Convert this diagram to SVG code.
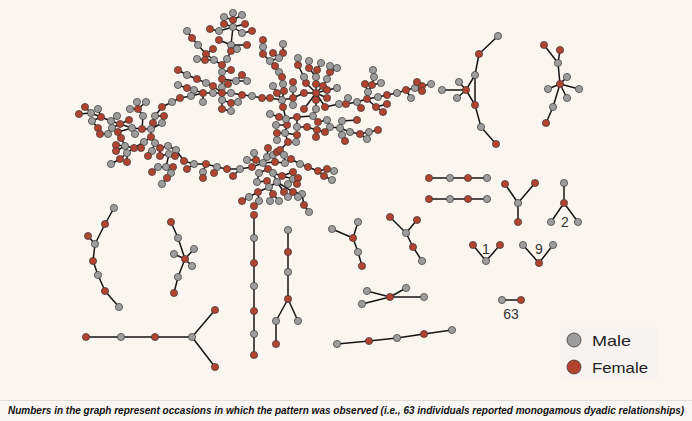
<svg xmlns="http://www.w3.org/2000/svg" xmlns:xlink="http://www.w3.org/1999/xlink" width="692" height="421" viewBox="0 0 692 421">
<style>
.e{fill:none;stroke:#151515;stroke-width:1.5;stroke-linecap:round;stroke-linejoin:round}
.lbl{font-family:"Liberation Sans",Arial,sans-serif;font-size:14px;fill:#333}
.leg{font-family:"Liberation Sans",Arial,sans-serif;font-size:15px;fill:#222}
.cap{font-family:"Liberation Sans",Arial,sans-serif;font-size:11px;font-weight:bold;font-style:italic;fill:#111}
</style>
<defs>
<circle id="M" r="3.6" fill="#9d9d9d" stroke="#3a3a3a" stroke-width="0.7"/>
<circle id="F" r="3.6" fill="#b1432f" stroke="#3a3a3a" stroke-width="0.7"/>
</defs>
<rect width="692" height="421" fill="#fbf5f0"/>
<rect x="0" y="400" width="692" height="21" fill="#faf6f3"/>
<line x1="0" y1="400.5" x2="692" y2="400.5" stroke="#e2dcd7" stroke-width="1"/>

<g id="connectors">
<path class="e" d="M233,13L233,20L233,27L231,45L231,51L227,59L222,65L222,72L222,79L222,87L222,93L222,100L222,109L231,111
M224,17L233,20L242,15 M224,24L233,27L245,24 M210,29L219,31L233,27L242,33L252,31 M219,40L231,45L247,45 M231,51L237,49
M187,31L192,38L198,45L206,54L214,60L222,65 M213,49L206,54 M197,59L205,60L214,60 M222,72L231,70 M222,79L236,81L242,75 M236,81L247,81 M222,87L228,84
M178,70L187,75L197,79L206,83L213,86L222,93 M178,85L187,88L194,90L203,93L213,93L222,93 M222,93L231,93L242,95L252,96 M203,93L203,102 M222,100L231,103L238,102 M203,93L191,96
M191,96L180,98L172,102L162,107L155,116L153,123L151,129
M151,129L142,129L132,128L120,124L111,121L101,117L91,113L79,114 M85,107L91,113 M98,109L101,117 M101,117L92,121L98,128 M111,121L117,116 M120,124L129,120 M120,124L112,128L108,134L100,134 M132,128L135,134 M132,128L118,132
M137,102L138,109L146,102 M130,109L138,109L143,116L142,129 M155,116L164,116 M151,129L162,123
M151,129L151,137L144,142L134,148L125,146L121,138 M125,146L116,145 M125,146L116,151 M134,148L127,153L120,159 M127,153L127,162 M120,159L111,164 M144,142L141,148
M151,137L155,143L160,148L168,146L176,150L184,161 M155,143L152,151L148,156 M160,148L160,156L169,154L175,156 M169,154L166,167L173,167 M166,167L158,167L152,172 M166,167L171,173L167,178L162,184
M184,161L194,164L206,164L217,167L227,169L240,169L252,167L263,163 M194,164L187,169 M206,164L203,172L203,178 M217,167L214,173 M240,169L233,176
M263,163L256,160L247,160 M256,160L254,153 M263,163L267,157L268,148 M263,163L275,162L285,163L291,159L300,164L308,167L318,171L327,169L334,171 M318,171L324,176L332,180
M275,162L273,155L277,152L280,150 M285,163L284,155 M263,163L268,169L273,173L282,176L293,179L298,178 M282,176L293,172 M293,179L288,184 M293,179L297,184
M268,169L259,173L257,182L267,181 M273,173L277,182L269,187L258,192L249,197L242,201 M258,192L259,201L254,206 M269,187L273,194L270,201 M273,194L279,201 M277,182L284,192L288,197 M277,182L293,192L302,194L304,205L309,212 M293,192L298,197
M280,150L288,142L285,133L287,125L286,119L283,107L282,100 M286,119L279,117L270,114 M286,119L297,117L313,116 M287,125L276,125 M285,133L277,133L277,140 M285,133L297,135L296,142
M297,117L297,127L307,127L317,130L325,132L330,127 M317,130L316,137 M340,128L330,127L327,120L318,122L313,116 M313,116L316,109
M340,128L342,121L357,120 M340,128L350,132L360,134L369,132L378,130 M360,134L367,139 M340,128L342,135L345,141
M252,96L262,98L270,98L282,100L293,98L304,93L316,93
M316,93L306,83L304,77L298,65L298,58 M316,93L316,84L316,77L317,70L321,63 M316,77L309,68L309,61 M316,93L323,86L327,79L330,72L330,66 M330,72L337,68 M316,93L327,90L337,88 M316,93L327,98 M316,93L316,100L316,109 M316,93L304,109
M316,93L325,107L339,104L346,104L357,102L367,99 M346,104L348,98 M357,102L361,108
M263,40L263,47L263,54L270,61L275,66L279,72L282,77L283,84L284,91L282,100 M283,44L283,53L279,58L270,61 M273,53L279,58 M273,86L277,93L282,100 M293,82L293,89L293,98 M293,98L293,105
M367,99L368,92L365,84 M368,92L372,85L374,77L373,70 M372,85L381,83 M367,99L378,97L387,95L397,93L406,90L415,88L422,86L431,84 M415,88L417,82 M415,88L422,91 M406,90L411,98 M367,99L376,107L383,112 M376,107L387,104"/>
<path class="e" d="M498,36L479,54L475,75L466,90L475,105L481,127L496,144 M475,75L475,105 M466,90L459,82 M466,90L442,90 M466,90L457,98"/>
<path class="e" d="M544,45L558,63L560,84L553,107L546,123 M560,50L558,63 M560,84L567,77 M560,84L579,89 M560,84L567,98 M560,84L548,89"/>
<path class="e" d="M429,178H487 M429,199H487"/>
<path class="e" d="M505,184L518,203L535,183 M518,203L518,222"/>
<path class="e" d="M564,183L564,203L551,222 M564,203L578,222"/>
<path class="e" d="M473,245L486,261L500,245"/>
<path class="e" d="M523,245L539,263L553,245"/>
<path class="e" d="M502,300H521"/>
<path class="e" d="M114,208L105,224L95,244L93,261L98,275L105,291L119,307 M88,236L95,244"/>
<path class="e" d="M171,222L178,238L185,259L178,277L174,293 M185,259L174,254 M185,259L194,249 M185,259L192,266"/>
<path class="e" d="M254,215V355"/>
<path class="e" d="M288,230L288,299L276,321L276,344 M288,299L298,321"/>
<path class="e" d="M332,229L353,238L358,222 M353,238L358,252L362,266"/>
<path class="e" d="M390,217L406,233L417,220 M406,233L413,247L422,261"/>
<path class="e" d="M390,297L367,291 M390,297L406,288 M390,297L424,297 M390,297L362,304"/>
<path class="e" d="M337,344L369,341L397,338L424,334L452,330"/>
<path class="e" d="M86,337H192L215,310 M192,337L215,367"/>
</g>

<g id="component-giant">
<use href="#M" x="233" y="13"/><use href="#F" x="233" y="20"/><use href="#M" x="233" y="27"/><use href="#M" x="231" y="45"/><use href="#F" x="231" y="51"/><use href="#M" x="227" y="59"/><use href="#F" x="222" y="65"/><use href="#M" x="222" y="72"/><use href="#F" x="222" y="79"/><use href="#M" x="222" y="87"/><use href="#F" x="222" y="93"/><use href="#M" x="222" y="100"/><use href="#F" x="222" y="109"/><use href="#M" x="231" y="111"/>
<use href="#M" x="224" y="17"/><use href="#M" x="242" y="15"/><use href="#F" x="224" y="24"/><use href="#F" x="245" y="24"/><use href="#F" x="210" y="29"/><use href="#M" x="219" y="31"/><use href="#M" x="242" y="33"/><use href="#F" x="252" y="31"/><use href="#F" x="219" y="40"/><use href="#F" x="247" y="45"/><use href="#M" x="237" y="49"/>
<use href="#M" x="187" y="31"/><use href="#F" x="192" y="38"/><use href="#M" x="198" y="45"/><use href="#F" x="206" y="54"/><use href="#M" x="214" y="60"/><use href="#F" x="213" y="49"/><use href="#M" x="197" y="59"/><use href="#F" x="205" y="60"/><use href="#F" x="231" y="70"/><use href="#M" x="236" y="81"/><use href="#F" x="242" y="75"/><use href="#M" x="247" y="81"/><use href="#F" x="228" y="84"/>
<use href="#F" x="178" y="70"/><use href="#M" x="187" y="75"/><use href="#F" x="197" y="79"/><use href="#M" x="206" y="83"/><use href="#F" x="213" y="86"/><use href="#M" x="178" y="85"/><use href="#F" x="187" y="88"/><use href="#M" x="194" y="90"/><use href="#F" x="203" y="93"/><use href="#M" x="213" y="93"/><use href="#M" x="231" y="93"/><use href="#F" x="242" y="95"/><use href="#M" x="252" y="96"/><use href="#M" x="203" y="102"/><use href="#F" x="231" y="103"/><use href="#M" x="238" y="102"/><use href="#M" x="191" y="96"/>
<use href="#F" x="180" y="98"/><use href="#M" x="172" y="102"/><use href="#F" x="162" y="107"/><use href="#M" x="155" y="116"/><use href="#F" x="153" y="123"/><use href="#M" x="151" y="129"/><use href="#F" x="142" y="129"/><use href="#M" x="132" y="128"/><use href="#F" x="120" y="124"/><use href="#M" x="111" y="121"/><use href="#F" x="101" y="117"/><use href="#M" x="91" y="113"/><use href="#F" x="79" y="114"/><use href="#M" x="98" y="109"/><use href="#F" x="85" y="107"/><use href="#M" x="92" y="121"/><use href="#F" x="98" y="128"/><use href="#M" x="117" y="116"/><use href="#F" x="129" y="120"/><use href="#M" x="112" y="128"/><use href="#M" x="108" y="134"/><use href="#F" x="100" y="134"/><use href="#M" x="135" y="134"/><use href="#F" x="118" y="132"/>
<use href="#M" x="137" y="102"/><use href="#F" x="138" y="109"/><use href="#M" x="146" y="102"/><use href="#M" x="130" y="109"/><use href="#M" x="143" y="116"/><use href="#F" x="164" y="116"/><use href="#M" x="162" y="123"/><use href="#F" x="151" y="137"/><use href="#M" x="144" y="142"/><use href="#F" x="134" y="148"/><use href="#M" x="125" y="146"/><use href="#F" x="121" y="138"/><use href="#F" x="116" y="145"/><use href="#F" x="116" y="151"/><use href="#M" x="127" y="153"/><use href="#F" x="120" y="159"/><use href="#F" x="127" y="162"/><use href="#M" x="111" y="164"/><use href="#F" x="141" y="148"/>
<use href="#M" x="155" y="143"/><use href="#F" x="160" y="148"/><use href="#M" x="168" y="146"/><use href="#M" x="176" y="150"/><use href="#F" x="184" y="161"/><use href="#M" x="152" y="151"/><use href="#F" x="148" y="156"/><use href="#F" x="160" y="156"/><use href="#M" x="169" y="154"/><use href="#F" x="175" y="156"/><use href="#M" x="166" y="167"/><use href="#F" x="173" y="167"/><use href="#M" x="158" y="167"/><use href="#F" x="152" y="172"/><use href="#M" x="171" y="173"/><use href="#F" x="167" y="178"/><use href="#M" x="162" y="184"/>
<use href="#M" x="194" y="164"/><use href="#F" x="206" y="164"/><use href="#M" x="217" y="167"/><use href="#F" x="227" y="169"/><use href="#M" x="240" y="169"/><use href="#F" x="252" y="167"/><use href="#M" x="263" y="163"/><use href="#F" x="187" y="169"/><use href="#M" x="203" y="172"/><use href="#F" x="203" y="178"/><use href="#F" x="214" y="173"/><use href="#F" x="233" y="176"/>
<use href="#F" x="256" y="160"/><use href="#M" x="247" y="160"/><use href="#M" x="254" y="153"/><use href="#M" x="267" y="157"/><use href="#F" x="268" y="148"/><use href="#F" x="275" y="162"/><use href="#M" x="285" y="163"/><use href="#F" x="291" y="159"/><use href="#M" x="300" y="164"/><use href="#F" x="308" y="167"/><use href="#F" x="318" y="171"/><use href="#F" x="327" y="169"/><use href="#M" x="334" y="171"/><use href="#F" x="324" y="176"/><use href="#M" x="332" y="180"/>
<use href="#M" x="273" y="155"/><use href="#F" x="277" y="152"/><use href="#F" x="280" y="150"/><use href="#M" x="284" y="155"/><use href="#F" x="268" y="169"/><use href="#M" x="273" y="173"/><use href="#F" x="282" y="176"/><use href="#M" x="293" y="179"/><use href="#F" x="298" y="178"/><use href="#F" x="293" y="172"/><use href="#M" x="288" y="184"/><use href="#F" x="297" y="184"/>
<use href="#M" x="259" y="173"/><use href="#M" x="257" y="182"/><use href="#F" x="267" y="181"/><use href="#M" x="277" y="182"/><use href="#M" x="269" y="187"/><use href="#F" x="258" y="192"/><use href="#M" x="249" y="197"/><use href="#F" x="242" y="201"/><use href="#M" x="259" y="201"/><use href="#F" x="254" y="206"/><use href="#F" x="273" y="194"/><use href="#M" x="270" y="201"/><use href="#M" x="279" y="201"/><use href="#F" x="284" y="192"/><use href="#M" x="288" y="197"/><use href="#F" x="293" y="192"/><use href="#M" x="302" y="194"/><use href="#F" x="304" y="205"/><use href="#M" x="309" y="212"/><use href="#M" x="298" y="197"/>
<use href="#F" x="288" y="142"/><use href="#M" x="285" y="133"/><use href="#F" x="287" y="125"/><use href="#M" x="286" y="119"/><use href="#F" x="283" y="107"/><use href="#F" x="279" y="117"/><use href="#M" x="270" y="114"/><use href="#F" x="297" y="117"/><use href="#M" x="313" y="116"/><use href="#M" x="276" y="125"/><use href="#F" x="277" y="133"/><use href="#M" x="277" y="140"/><use href="#F" x="297" y="135"/><use href="#M" x="296" y="142"/>
<use href="#M" x="297" y="127"/><use href="#F" x="307" y="127"/><use href="#F" x="317" y="130"/><use href="#M" x="340" y="128"/><use href="#M" x="330" y="127"/><use href="#M" x="327" y="120"/><use href="#F" x="318" y="122"/><use href="#F" x="325" y="132"/><use href="#F" x="316" y="137"/><use href="#M" x="342" y="121"/><use href="#F" x="357" y="120"/><use href="#M" x="350" y="132"/><use href="#F" x="360" y="134"/><use href="#M" x="369" y="132"/><use href="#F" x="378" y="130"/><use href="#M" x="367" y="139"/><use href="#M" x="342" y="135"/><use href="#F" x="345" y="141"/>
<use href="#F" x="262" y="98"/><use href="#F" x="270" y="98"/><use href="#M" x="282" y="100"/><use href="#F" x="293" y="98"/><use href="#F" x="304" y="93"/><use href="#F" x="306" y="83"/><use href="#M" x="304" y="77"/><use href="#F" x="298" y="65"/><use href="#M" x="298" y="58"/><use href="#F" x="316" y="84"/><use href="#M" x="316" y="77"/><use href="#F" x="317" y="70"/><use href="#M" x="321" y="63"/><use href="#F" x="309" y="68"/><use href="#M" x="309" y="61"/><use href="#F" x="323" y="86"/><use href="#M" x="327" y="79"/><use href="#F" x="330" y="72"/><use href="#M" x="330" y="66"/><use href="#M" x="337" y="68"/><use href="#F" x="327" y="90"/><use href="#M" x="337" y="88"/><use href="#F" x="327" y="98"/><use href="#F" x="316" y="100"/><use href="#M" x="316" y="109"/><use href="#F" x="304" y="109"/>
<use href="#F" x="325" y="107"/><use href="#M" x="339" y="104"/><use href="#F" x="346" y="104"/><use href="#M" x="357" y="102"/><use href="#F" x="367" y="99"/><use href="#M" x="348" y="98"/><use href="#F" x="361" y="108"/><use href="#F" x="316" y="93"/>
<use href="#F" x="263" y="40"/><use href="#M" x="263" y="47"/><use href="#F" x="263" y="54"/><use href="#M" x="270" y="61"/><use href="#F" x="275" y="66"/><use href="#M" x="279" y="72"/><use href="#F" x="282" y="77"/><use href="#M" x="283" y="84"/><use href="#F" x="284" y="91"/><use href="#M" x="283" y="44"/><use href="#F" x="283" y="53"/><use href="#M" x="279" y="58"/><use href="#F" x="273" y="53"/><use href="#M" x="273" y="86"/><use href="#F" x="277" y="93"/><use href="#F" x="293" y="82"/><use href="#M" x="293" y="89"/><use href="#M" x="293" y="105"/>
<use href="#M" x="368" y="92"/><use href="#F" x="365" y="84"/><use href="#F" x="372" y="85"/><use href="#M" x="374" y="77"/><use href="#M" x="373" y="70"/><use href="#M" x="381" y="83"/><use href="#M" x="378" y="97"/><use href="#F" x="387" y="95"/><use href="#M" x="397" y="93"/><use href="#F" x="406" y="90"/><use href="#M" x="415" y="88"/><use href="#F" x="422" y="86"/><use href="#M" x="431" y="84"/><use href="#F" x="417" y="82"/><use href="#F" x="422" y="91"/><use href="#M" x="411" y="98"/><use href="#F" x="376" y="107"/><use href="#F" x="383" y="112"/><use href="#F" x="387" y="104"/>
</g>

<g id="component-a"><use href="#M" x="498" y="36"/><use href="#F" x="479" y="54"/><use href="#M" x="475" y="75"/><use href="#F" x="466" y="90"/><use href="#M" x="459" y="82"/><use href="#M" x="442" y="90"/><use href="#M" x="457" y="98"/><use href="#F" x="475" y="105"/><use href="#M" x="481" y="127"/><use href="#F" x="496" y="144"/></g>
<g id="component-b"><use href="#F" x="544" y="45"/><use href="#F" x="560" y="50"/><use href="#M" x="558" y="63"/><use href="#F" x="560" y="84"/><use href="#M" x="567" y="77"/><use href="#M" x="579" y="89"/><use href="#M" x="567" y="98"/><use href="#M" x="548" y="89"/><use href="#M" x="553" y="107"/><use href="#F" x="546" y="123"/></g>
<g id="component-c"><use href="#F" x="429" y="178"/><use href="#M" x="450" y="178"/><use href="#F" x="468" y="178"/><use href="#M" x="487" y="178"/></g>
<g id="component-d"><use href="#F" x="429" y="199"/><use href="#M" x="450" y="199"/><use href="#F" x="468" y="199"/><use href="#M" x="487" y="199"/></g>
<g id="component-e"><use href="#F" x="505" y="184"/><use href="#F" x="535" y="183"/><use href="#M" x="518" y="203"/><use href="#F" x="518" y="222"/></g>
<g id="component-2"><use href="#M" x="564" y="183"/><use href="#F" x="564" y="203"/><use href="#M" x="551" y="222"/><use href="#M" x="578" y="222"/><text class="lbl" x="565" y="227" text-anchor="middle" fill="#333">2</text></g>
<g id="component-1"><use href="#F" x="473" y="245"/><use href="#F" x="500" y="245"/><use href="#M" x="486" y="261"/><text class="lbl" x="486" y="254" text-anchor="middle" fill="#333">1</text></g>
<g id="component-9"><use href="#M" x="523" y="245"/><use href="#M" x="553" y="245"/><use href="#F" x="539" y="263"/><text class="lbl" x="539" y="254" text-anchor="middle" fill="#333">9</text></g>
<g id="component-63"><use href="#M" x="502" y="300"/><use href="#F" x="521" y="300"/><text class="lbl" x="511" y="319" text-anchor="middle" fill="#333">63</text></g>
<g id="component-j"><use href="#M" x="114" y="208"/><use href="#F" x="105" y="224"/><use href="#F" x="88" y="236"/><use href="#M" x="95" y="244"/><use href="#F" x="93" y="261"/><use href="#M" x="98" y="275"/><use href="#F" x="105" y="291"/><use href="#M" x="119" y="307"/></g>
<g id="component-k"><use href="#F" x="171" y="222"/><use href="#M" x="178" y="238"/><use href="#F" x="185" y="259"/><use href="#M" x="174" y="254"/><use href="#M" x="194" y="249"/><use href="#M" x="192" y="266"/><use href="#M" x="178" y="277"/><use href="#F" x="174" y="293"/></g>
<g id="component-l"><use href="#F" x="254" y="215"/><use href="#M" x="254" y="238"/><use href="#F" x="254" y="263"/><use href="#M" x="254" y="286"/><use href="#F" x="254" y="311"/><use href="#M" x="254" y="334"/><use href="#F" x="254" y="355"/></g>
<g id="component-m"><use href="#M" x="288" y="230"/><use href="#F" x="288" y="252"/><use href="#M" x="288" y="272"/><use href="#F" x="288" y="299"/><use href="#M" x="276" y="321"/><use href="#F" x="276" y="344"/><use href="#M" x="298" y="321"/></g>
<g id="component-n"><use href="#M" x="332" y="229"/><use href="#M" x="358" y="222"/><use href="#F" x="353" y="238"/><use href="#M" x="358" y="252"/><use href="#F" x="362" y="266"/></g>
<g id="component-o"><use href="#F" x="390" y="217"/><use href="#F" x="417" y="220"/><use href="#M" x="406" y="233"/><use href="#F" x="413" y="247"/><use href="#M" x="422" y="261"/></g>
<g id="component-p"><use href="#M" x="367" y="291"/><use href="#M" x="406" y="288"/><use href="#F" x="390" y="297"/><use href="#M" x="424" y="297"/><use href="#M" x="362" y="304"/></g>
<g id="component-q"><use href="#M" x="337" y="344"/><use href="#F" x="369" y="341"/><use href="#M" x="397" y="338"/><use href="#F" x="424" y="334"/><use href="#M" x="452" y="330"/></g>
<g id="component-r"><use href="#F" x="86" y="337"/><use href="#M" x="121" y="337"/><use href="#F" x="155" y="337"/><use href="#M" x="192" y="337"/><use href="#F" x="215" y="310"/><use href="#F" x="215" y="367"/></g>

<g id="legend">
<rect x="561" y="327" width="97" height="53" fill="#f7f3f0"/>
<circle cx="574" cy="340" r="7" fill="#9d9d9d" stroke="#3a3a3a" stroke-width="0.8"/>
<circle cx="574" cy="367" r="7" fill="#b1432f" stroke="#3a3a3a" stroke-width="0.8"/>
<text class="leg" x="592" y="345.5" textLength="39" lengthAdjust="spacingAndGlyphs">Male</text>
<text class="leg" x="592" y="372.5" textLength="56" lengthAdjust="spacingAndGlyphs">Female</text>
</g>
<text class="cap" transform="translate(8,413.5) scale(0.84,1)" x="0" y="0" textLength="805" lengthAdjust="spacingAndGlyphs">Numbers in the graph represent occasions in which the pattern was observed (i.e., 63 individuals reported monogamous dyadic relationships)</text>
</svg>
